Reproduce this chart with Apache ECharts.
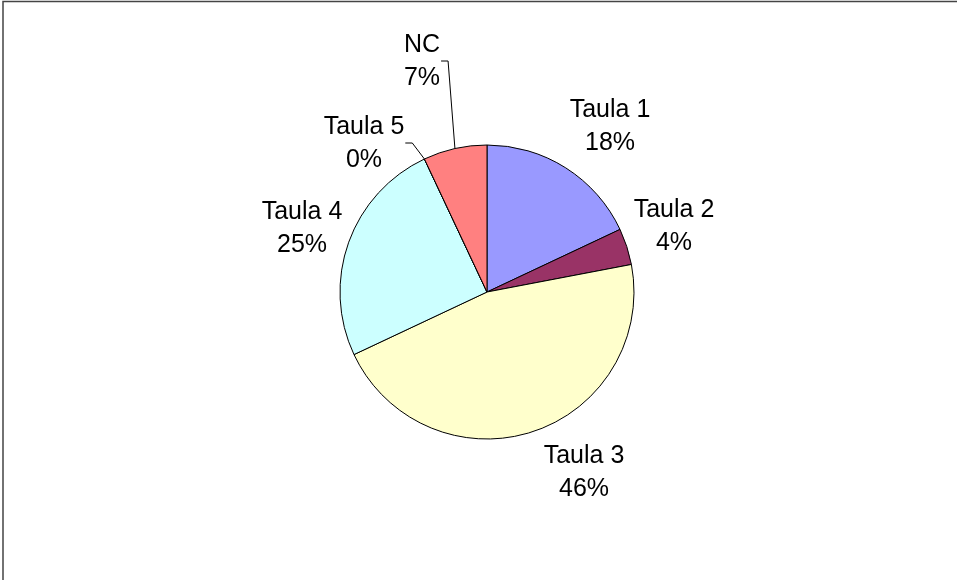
<!DOCTYPE html>
<html>
<head>
<meta charset="utf-8">
<script src="https://cdn.jsdelivr.net/npm/echarts@6/dist/echarts.min.js"></script>
<style>
  html, body { margin: 0; padding: 0; background: #fff; }
  #chart { width: 957px; height: 580px; }
</style>
</head>
<body>
<div id="chart"></div>
<script>
'use strict';
// dades llegides del gràfic
var categories = ['Taula 1', 'Taula 2', 'Taula 3', 'Taula 4', 'Taula 5', 'NC'];
var values = [18, 4, 46, 25, 0, 7];
var colors = ['#9999FF', '#993366', '#FFFFCC', '#CCFFFF', '#FFFFFF', '#FF8080'];
// posició de cada etiqueta (centre del bloc de text)
var labelPos = [[610, 127], [674, 227], [584, 473], [302, 229], [364, 144], [422, 62]];
var showLine = [false, false, false, false, true, true];

var myChart = echarts.init(document.getElementById('chart'));

var pieData = categories.map(function (name, i) {
    return {
        name: name,
        value: values[i],
        itemStyle: { color: colors[i] },
        labelLine: { show: showLine[i] }
    };
});

var option = {
    animation: false,
    backgroundColor: '#ffffff',
    graphic: [{
        type: 'polyline',
        shape: { points: [[3, 580], [3, 1.5], [957, 1.5]] },
        style: { stroke: '#444', lineWidth: 1.5, fill: null },
        silent: true
    }],
    series: [{
        type: 'pie',
        center: [487, 292],
        radius: 147,
        startAngle: 90,
        clockwise: true,
        data: pieData,
        itemStyle: { borderColor: '#000', borderWidth: 1 },
        label: {
            show: true,
            position: 'outside',
            fontFamily: 'Liberation Sans, Arial, sans-serif',
            fontSize: 25,
            lineHeight: 33,
            color: '#000',
            align: 'center',
            formatter: function (p) {
                return p.name + '\n' + Math.round(p.percent) + '%';
            }
        },
        labelLine: {
            show: false,
            length: 10,
            length2: 10,
            lineStyle: { color: '#000', width: 1 }
        },
        labelLayout: function (params) {
            var i = params.dataIndex;
            var pos = labelPos[i];
            var res = { x: pos[0], y: pos[1], align: 'center', verticalAlign: 'middle' };
            var pts = params.labelLinePoints;
            if (showLine[i] && pts && pts.length) {
                // línia de guia: vora del sector -> colze -> costat dret de l'etiqueta
                var right = pos[0] + params.labelRect.width / 2;
                var ly = pos[1] - 1;
                res.labelLinePoints = [
                    [pts[0][0], pts[0][1]],
                    [right + 8, ly],
                    [right + 1, ly]
                ];
            }
            return res;
        },
        emphasis: { disabled: true }
    }]
};

myChart.setOption(option);
</script>
</body>
</html>
